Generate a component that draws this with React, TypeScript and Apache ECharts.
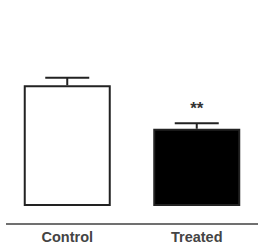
import React, { useEffect, useRef } from "react";
import * as echarts from "echarts";

const categories = ["Control", "Treated"];
const means = [100, 64];
const errors = [6.2, 4.5];
const significance = ["", "**"];
const fills = ["#ffffff", "#000000"];

export default function App() {
  const ref = useRef<HTMLDivElement>(null);
  useEffect(() => {
    if (!ref.current) return;
    const chart = echarts.init(ref.current, undefined, { renderer: "svg" });
    chart.setOption({
      animation: false,
      backgroundColor: "#ffffff",
      grid: { left: 2.5, width: 259, top: 25, bottom: 42 },
      xAxis: {
        type: "category",
        data: categories,
        offset: 17,
        axisLine: { show: false },
        axisTick: { show: false },
        axisLabel: {
          margin: 6,
          fontFamily: "Liberation Sans, Arial, sans-serif",
          fontWeight: "bold",
          fontSize: 14.5,
          color: "#444444",
        },
      },
      yAxis: { type: "value", min: 0, max: 150, show: false },
      graphic: [
        {
          type: "line",
          shape: { x1: 6, y1: 224, x2: 258, y2: 224 },
          style: { stroke: "#707070", lineWidth: 2 },
        },
      ],
      series: [
        {
          type: "bar",
          barWidth: 87,
          data: means.map((v, i) => ({
            value: v,
            itemStyle: { color: fills[i], borderColor: "#222222", borderWidth: 2 },
          })),
        },
        {
          type: "custom",
          clip: false,
          data: means.map((v, i) => [i, v, errors[i]]),
          renderItem: (params: any, api: any) => {
            const idx = api.value(0);
            const mean = api.value(1);
            const err = api.value(2);
            const top = api.coord([idx, mean]);
            const cap = api.coord([idx, mean + err]);
            const half = 22;
            const children: any[] = [
              {
                type: "line",
                shape: { x1: top[0], y1: top[1], x2: cap[0], y2: cap[1] },
                style: { stroke: "#222222", lineWidth: 2 },
              },
              {
                type: "line",
                shape: { x1: cap[0] - half, y1: cap[1], x2: cap[0] + half, y2: cap[1] },
                style: { stroke: "#222222", lineWidth: 2 },
              },
            ];
            const sig = significance[params.dataIndex];
            if (sig) {
              children.push({
                type: "text",
                style: {
                  text: sig,
                  x: cap[0],
                  y: cap[1] - 15,
                  align: "center",
                  verticalAlign: "middle",
                  fontFamily: "Liberation Sans, Arial, sans-serif",
                  fontWeight: "bold",
                  fontSize: 17,
                  fill: "#333333",
                },
              });
            }
            return { type: "group", children };
          },
        },
      ],
    });
    return () => chart.dispose();
  }, []);
  return (
    <div
      ref={ref}
      style={{ position: "fixed", left: 0, top: 0, width: 264, height: 248 }}
    />
  );
}
